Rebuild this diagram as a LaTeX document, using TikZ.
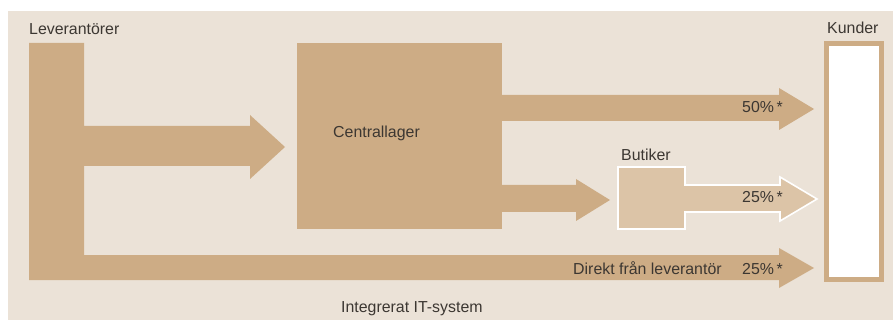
\documentclass[tikz,border=0pt]{standalone}
\usepackage{fontspec}
\setmainfont{Liberation Sans}
\definecolor{bgc}{RGB}{235,226,215}
\definecolor{tan}{RGB}{205,172,133}
\definecolor{lighttan}{RGB}{220,196,167}
\definecolor{txt}{RGB}{60,55,50}
\begin{document}
\begin{tikzpicture}[x=1pt,y=-1pt,
  lbl/.style={anchor=base west,inner sep=0pt,text=txt,font=\fontsize{15.9}{19}\selectfont},
  flow/.style={fill=tan,draw=none}]
\useasboundingbox (0,0) rectangle (893,320);
\fill[bgc] (8,11) rectangle (893,320);
% supplier L-shape with arrows to Centrallager and direct to customers
\path[flow] (29,43) -- (84,43) -- (84,126) -- (250,126) -- (250,115) -- (285,147)
  -- (250,179) -- (250,166) -- (84,166) -- (84,255) -- (779,255) -- (779,248)
  -- (814,268) -- (779,288) -- (779,280) -- (29,280) -- cycle;
% Centrallager
\node[flow,anchor=north west,minimum width=205pt,minimum height=186pt,inner sep=0pt,outer sep=0pt] (central) at (297,43) {};
% top arrow 50%
\path[flow] (501,95) -- (779,95) -- (779,88) -- (814,109) -- (779,130) -- (779,121) -- (501,121) -- cycle;
% arrow to Butiker
\path[flow] (501,185) -- (576,185) -- (576,179) -- (610,200) -- (576,221) -- (576,212) -- (501,212) -- cycle;
% Butiker box with arrow
\path[fill=lighttan,draw=white,line width=1.6pt] (618,167) -- (685,167) -- (685,185) -- (780,185)
  -- (780,177) -- (817,199) -- (780,221) -- (780,212) -- (685,212) -- (685,229) -- (618,229) -- cycle;
% Kunder
\node[draw=tan,fill=white,line width=5pt,anchor=north west,minimum width=55pt,minimum height=236pt,inner sep=0pt,outer sep=0pt] (kund) at (826.5,43.5) {};
% labels
\node[lbl] (lev) at (29,35) {Leverantörer};
\node[lbl] (kundl) at (827,34) {Kunder};
\node[lbl] (centl) at (333,138) {Centrallager};
\node[lbl] (butl) at (621,161) {Butiker};
\node[lbl] (p1) at (742,113) {50\%\,*};
\node[lbl] (p2) at (742,203) {25\%\,*};
\node[lbl] (dir) at (573,274) {Direkt från leverantör};
\node[lbl] (p3) at (742,274) {25\%\,*};
\node[lbl] (it) at (341,312) {Integrerat IT-system};
\end{tikzpicture}
\end{document}
